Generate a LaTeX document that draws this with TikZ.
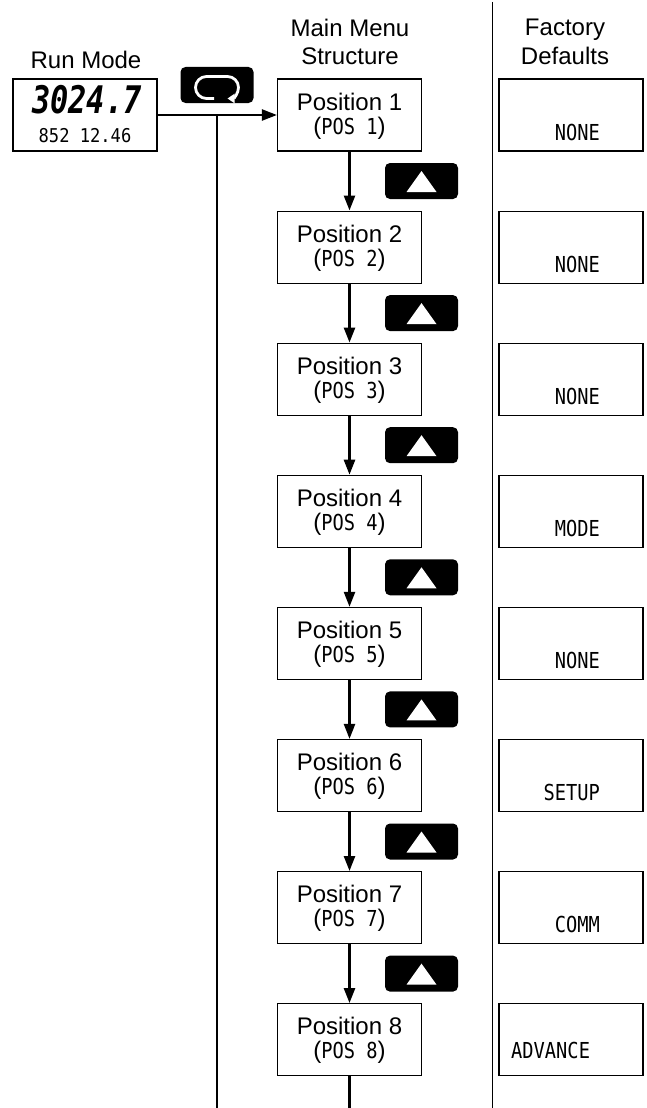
\documentclass[tikz,border=0pt]{standalone}
\usepackage{fontspec}
\setmainfont{Liberation Sans}
\newfontfamily\lcdfont{DejaVu Sans Mono}
\usepackage{graphicx}
\usetikzlibrary{arrows.meta}
\newcommand{\lcd}[1]{\scalebox{0.85}[1]{\lcdfont\fontsize{22}{25}\selectfont #1}}

\begin{document}
\begin{tikzpicture}[x=1pt,y=-1pt,
  box/.style={draw,line width=1.2pt,minimum width=144pt,minimum height=72pt,inner sep=0pt},
  keybox/.style={fill=black,rounded corners=5pt,minimum width=73pt,minimum height=36pt,inner sep=0pt},
  flow/.style={line width=2.5pt,-{Triangle[length=15pt,width=11pt]}},
  lbl/.style={font=\fontsize{24}{28}\selectfont,anchor=base,inner sep=0pt}]
\useasboundingbox (0,0) rectangle (647,1108);
% column titles
\node[lbl] (runtitle) at (86,69) {Run Mode};
\node[lbl] (menutitle) at (350,37) {Main Menu};
\node[lbl] (menutitleb) at (350,65) {Structure};
\node[lbl] (facttitle) at (565,36) {Factory};
\node[lbl] (facttitleb) at (565,65) {Defaults};
\coordinate (ftop) at (492,2);
\coordinate (fbot) at (492,1108);
\draw[line width=1pt] (ftop) -- (fbot);
% run mode display
\node[box] (run) at (85,115) {};
\node[anchor=base,inner sep=0pt] (runtop) at (87,113) {\scalebox{0.8}[1]{\lcdfont\bfseries\itshape\fontsize{38}{38}\selectfont 3024.7}};
\node[anchor=base,inner sep=0pt] (runbot) at (85,142) {\scalebox{0.9}[1]{\lcdfont\fontsize{19}{22}\selectfont 852 12.46}};
% loop key
\node[keybox] (loopkey) at (217,85) {};
\draw[white,line width=2.8pt,-{Triangle[length=7pt,width=9pt]}] (214,98.5) -- (206.5,98.5)
  arc[start angle=90,end angle=270,radius=11] -- (227.5,76.5)
  arc[start angle=270,end angle=450,radius=11];
\coordinate (junc) at (217,115);
\coordinate (loopend) at (217,1108);
\draw[line width=2.5pt] (junc) -- (loopend);
% menu positions
\foreach \i in {1,...,8} {
  \node[box] (pos\i) at (349.5,{115+(\i-1)*132.1}) {};
  \node[lbl] (ptxt\i) at (349.5,{110+(\i-1)*132.1}) {Position \i};
  \node[lbl] (pcode\i) at (349.5,{134+(\i-1)*132.1}) {(\lcd{POS \i})};
  \node[box] (def\i) at (571,{115+(\i-1)*132.1}) {};
}
\foreach \i in {1,...,7} {
  \node[keybox] (upkey\i) at (421.5,{181+(\i-1)*132.1}) {};
  \fill[white] (upkey\i.center) ++(-15,11) -- ++(30,0) -- ++(-15,-21) -- cycle;
}
\draw[flow] (run) -- (pos1);
\foreach \i [evaluate=\i as \j using int(\i+1)] in {1,...,7} {
  \draw[flow] (pos\i) -- (pos\j);
}
\coordinate (menuend) at (349.5,1108);
\draw[line width=2.5pt] (pos8.south) -- (menuend);
% factory default values
\foreach \i/\val in {1/NONE,2/NONE,3/NONE,4/MODE,5/NONE,6/SETUP,7/COMM} {
  \node[anchor=base east,inner sep=0pt] (dval\i) at (600,{140+(\i-1)*132.1}) {\lcd{\val}};
}
\node[anchor=base west,inner sep=0pt] (dval8) at (511,1058) {\lcd{ADVANCE}};
\end{tikzpicture}
\end{document}
